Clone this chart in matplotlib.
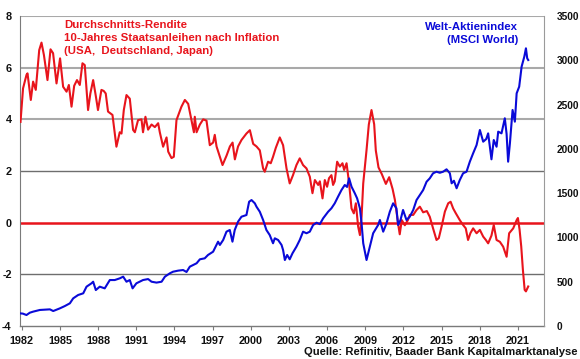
import matplotlib
matplotlib.use("Agg")
import matplotlib.pyplot as plt

plt.rcParams['font.family'] = ['Liberation Sans', 'DejaVu Sans']

# ---- data ----
red_years = [
    1981.90, 1982.10, 1982.37, 1982.45, 1982.71, 1982.89, 1983.10, 1983.37, 1983.55, 1983.74,
    1984.02, 1984.26, 1984.46, 1984.73, 1985.01, 1985.25, 1985.52, 1985.70, 1985.91, 1986.12,
    1986.34, 1986.56, 1986.77, 1986.95, 1987.21, 1987.39, 1987.61, 1987.82, 1987.99, 1988.26,
    1988.44, 1988.60, 1988.78, 1989.13, 1989.31, 1989.44, 1989.70, 1989.84, 1990.02, 1990.23,
    1990.49, 1990.75, 1990.89, 1991.14, 1991.41, 1991.53, 1991.72, 1991.93, 1992.20, 1992.46,
    1992.72, 1992.85, 1993.11, 1993.38, 1993.51, 1993.77, 1993.95, 1994.16, 1994.55, 1994.82,
    1995.08, 1995.34, 1995.53, 1995.60, 1995.74, 1996.00, 1996.26, 1996.52, 1996.78, 1997.04,
    1997.17, 1997.31, 1997.57, 1997.78, 1998.10, 1998.36, 1998.57, 1998.75, 1999.00, 1999.27,
    1999.66, 1999.93, 2000.19, 2000.45, 2000.71, 2000.97, 2001.10, 2001.36, 2001.57, 2001.75,
    2001.97, 2002.28, 2002.54, 2002.81, 2003.06, 2003.32, 2003.59, 2003.85, 2004.11, 2004.38,
    2004.64, 2004.85, 2005.04, 2005.30, 2005.43, 2005.64, 2005.82, 2006.00, 2006.15, 2006.34,
    2006.47, 2006.60, 2006.79, 2007.00, 2007.21, 2007.34, 2007.53, 2007.73, 2007.92, 2008.10,
    2008.26, 2008.44, 2008.58, 2008.71, 2008.84, 2009.10, 2009.28, 2009.49, 2009.70, 2009.83,
    2010.04, 2010.30, 2010.62, 2010.88, 2011.15, 2011.33, 2011.58, 2011.71, 2011.87, 2012.11,
    2012.35, 2012.50, 2012.77, 2013.03, 2013.29, 2013.55, 2013.84, 2014.07, 2014.33, 2014.60,
    2014.78, 2015.00, 2015.26, 2015.52, 2015.71, 2015.91, 2016.11, 2016.43, 2016.69, 2016.90,
    2017.08, 2017.27, 2017.48, 2017.75, 2018.01, 2018.27, 2018.48, 2018.66, 2018.92, 2019.10,
    2019.32, 2019.58, 2019.84, 2020.11, 2020.31, 2020.63, 2020.90, 2021.00, 2021.13, 2021.26,
    2021.39, 2021.53, 2021.63, 2021.81,
]
red_values = [
    3.9, 5.2, 5.72, 5.78, 4.75, 5.46, 5.14, 6.68, 6.97, 6.49,
    5.52, 6.71, 6.56, 5.39, 6.36, 5.26, 5.07, 5.33, 4.49, 5.3,
    5.52, 5.33, 6.17, 6.1, 4.36, 5.0, 5.52, 4.9, 4.36, 5.14,
    5.1, 5.0, 4.3, 4.17, 3.47, 2.94, 3.5, 3.45, 4.36, 4.94,
    4.8, 3.59, 3.5, 3.97, 4.0, 3.5, 4.1, 3.6, 3.8, 3.7,
    3.85, 3.5, 2.94, 3.3, 2.75, 2.5, 2.55, 3.97, 4.49, 4.75,
    4.6, 3.97, 3.5, 4.1, 3.5, 3.8, 4.0, 3.95, 3.0, 3.1,
    3.4, 2.95, 2.55, 2.23, 2.6, 2.95, 3.1, 2.45, 2.95, 3.2,
    3.45, 3.58, 3.05, 2.95, 2.8, 2.1, 1.97, 2.36, 2.3, 2.55,
    2.9, 3.3, 3.0, 2.1, 1.52, 1.84, 2.23, 2.49, 2.23, 2.1,
    1.78, 1.14, 1.65, 1.46, 1.6, 0.94, 1.65, 1.39, 1.72, 1.84,
    1.46, 1.6, 2.36, 2.17, 2.3, 2.04, 2.3, 1.52, 0.55, 0.36,
    0.75, -0.15, -0.48, 0.23, 1.52, 2.81, 3.8, 4.36, 3.81, 2.79,
    2.14, 1.88, 1.5, 1.76, 1.3, 0.88, -0.03, -0.45, 0.1, -0.1,
    0.1, 0.3, 0.3, 0.49, 0.62, 0.4, 0.45, 0.23, -0.22, -0.67,
    -0.6, -0.15, 0.43, 0.75, 0.81, 0.55, 0.37, 0.1, -0.09, -0.22,
    -0.67, -0.4, -0.22, -0.41, -0.28, -0.54, -0.67, -0.8, -0.5, -0.09,
    -0.67, -0.74, -0.93, -1.32, -0.41, -0.22, 0.1, 0.18, -0.27, -0.92,
    -1.82, -2.6, -2.66, -2.47,
]

blue_years = [
    1981.84, 1982.08, 1982.37, 1982.63, 1982.89, 1983.42, 1983.82, 1984.21, 1984.47, 1984.99,
    1985.38, 1985.78, 1986.04, 1986.43, 1986.83, 1987.09, 1987.48, 1987.61, 1987.82, 1988.13,
    1988.52, 1988.92, 1989.31, 1989.70, 1989.97, 1990.23, 1990.49, 1990.71, 1991.01, 1991.53,
    1991.93, 1992.20, 1992.59, 1992.99, 1993.25, 1993.64, 1993.89, 1994.29, 1994.68, 1994.95,
    1995.21, 1995.74, 1996.00, 1996.38, 1996.64, 1997.04, 1997.43, 1997.57, 1997.83, 1998.09,
    1998.35, 1998.56, 1998.74, 1999.00, 1999.27, 1999.66, 1999.87, 2000.06, 2000.32, 2000.45,
    2000.71, 2000.97, 2001.23, 2001.49, 2001.75, 2001.89, 2002.15, 2002.42, 2002.54, 2002.68,
    2002.86, 2003.06, 2003.28, 2003.59, 2003.85, 2004.11, 2004.38, 2004.64, 2004.90, 2005.17,
    2005.43, 2005.69, 2006.08, 2006.34, 2006.60, 2006.86, 2007.13, 2007.39, 2007.57, 2007.73,
    2007.92, 2008.18, 2008.36, 2008.58, 2008.71, 2008.84, 2009.10, 2009.36, 2009.62, 2010.01,
    2010.15, 2010.41, 2010.67, 2010.93, 2011.19, 2011.45, 2011.58, 2011.77, 2011.97, 2012.24,
    2012.50, 2012.77, 2013.03, 2013.29, 2013.55, 2013.82, 2014.07, 2014.33, 2014.60, 2014.86,
    2015.12, 2015.39, 2015.65, 2015.79, 2015.97, 2016.18, 2016.43, 2016.69, 2016.96, 2017.22,
    2017.48, 2017.75, 2018.01, 2018.27, 2018.51, 2018.66, 2018.92, 2019.10, 2019.32, 2019.45,
    2019.71, 2019.97, 2020.11, 2020.23, 2020.37, 2020.58, 2020.76, 2020.90, 2021.10, 2021.29,
    2021.50, 2021.63, 2021.73, 2021.81,
]
blue_values = [
    143, 140, 124, 150, 162, 181, 185, 188, 169, 199,
    225, 256, 312, 350, 369, 444, 482, 500, 406, 444,
    425, 519, 519, 538, 557, 500, 519, 425, 482, 519,
    530, 500, 490, 500, 557, 595, 613, 625, 632, 610,
    670, 708, 753, 764, 802, 839, 952, 915, 971, 1065,
    1084, 952, 1084, 1178, 1234, 1253, 1403, 1422, 1385, 1347,
    1290, 1197, 1084, 1027, 934, 990, 971, 915, 858, 745,
    802, 753, 821, 896, 971, 1065, 1047, 1065, 1140, 1166,
    1150, 1216, 1290, 1329, 1385, 1460, 1535, 1592, 1570, 1667,
    1573, 1498, 1441, 1329, 1159, 934, 745, 896, 1047, 1140,
    1197, 1065, 1159, 1290, 1385, 1329, 1140, 1197, 1310, 1197,
    1234, 1310, 1422, 1479, 1535, 1629, 1667, 1724, 1742, 1730,
    1742, 1769, 1724, 1611, 1640, 1555, 1648, 1724, 1742, 1855,
    1950, 2043, 2213, 2081, 2111, 2175, 1882, 2100, 2024, 2194,
    2175, 2345, 2168, 1855, 2062, 2439, 2307, 2627, 2702, 2928,
    3040, 3135, 3022, 3003,
]

x_ticks = [1982, 1985, 1988, 1991, 1994, 1997, 2000, 2003, 2006, 2009, 2012, 2015, 2018, 2021]
left_ticks = [-4, -2, 0, 2, 4, 6, 8]
right_ticks = [0, 500, 1000, 1500, 2000, 2500, 3000, 3500]

red_label = ["Durchschnitts-Rendite",
             "10-Jahres Staatsanleihen nach Inflation",
             "(USA,  Deutschland, Japan)"]
blue_label = ["Welt-Aktienindex", "(MSCI World)"]
source = "Quelle: Refinitiv, Baader Bank Kapitalmarktanalyse"

RED = '#e8141c'
BLUE = '#0a0ad8'
W, H = 580, 359

fig = plt.figure(figsize=(W / 100, H / 100), dpi=100)
ax = fig.add_axes([20 / W, 1 - 326 / H, 524 / W, 310 / H])
ax2 = ax.twinx()

ax.set_xlim(1981.86, 2023.05)
ax.set_ylim(-4, 8)
ax2.set_ylim(0, 3500)

# grid lines
for v in [8, 6, 4]:
    ax.axhline(v, color='#a9a9a9', lw=1.5, zorder=1)
for v in [2, -2]:
    ax.axhline(v, color='#6e6e6e', lw=1.0, zorder=1)
ax.axhline(0, color=RED, lw=1.8, zorder=2)

ax.plot(red_years, red_values, color=RED, lw=1.5, zorder=3)
ax2.plot(blue_years, blue_values, color=BLUE, lw=1.5, zorder=3)

# spines
for s in ['top', 'right']:
    ax.spines[s].set_visible(False)
for s in ['top', 'left', 'bottom']:
    ax2.spines[s].set_visible(False)
ax.spines['left'].set_color('#7a7a7a')
ax.spines['bottom'].set_color('#7a7a7a')
ax2.spines['right'].set_color('#9a9a9a')
ax.spines['bottom'].set_linewidth(1.0)

ax.set_xticks(x_ticks)
ax.set_xticklabels([str(y) for y in x_ticks])
ax.set_yticks(left_ticks)
ax.set_yticklabels([str(v) for v in left_ticks])
ax2.set_yticks(right_ticks)
ax2.set_yticklabels([str(v) for v in right_ticks])

fs = 7.8
ax.tick_params(axis='x', length=3, color='#7a7a7a', pad=4, labelsize=fs)
ax.tick_params(axis='y', length=0, pad=6, labelsize=fs)
ax2.tick_params(axis='y', length=0, pad=9, labelsize=7.3)
for lab in ax.get_xticklabels() + ax.get_yticklabels() + ax2.get_yticklabels():
    lab.set_fontweight('bold')
    lab.set_color('#111111')

# annotations
for i, t in enumerate(red_label):
    fig.text(64 / W, 1 - (25 + 13 * i) / H, t, color=RED, fontsize=8.2,
             fontweight='bold', ha='left', va='center')
for i, t in enumerate(blue_label):
    fig.text(518 / W, 1 - (27 + 13 * i) / H, t, color=BLUE, fontsize=8.2,
             fontweight='bold', ha='right', va='center')
fig.text(577 / W, 1 - 352 / H, source, color='#111111', fontsize=8.1,
         fontweight='bold', ha='right', va='center')

fig.savefig('out.png', dpi=100)
